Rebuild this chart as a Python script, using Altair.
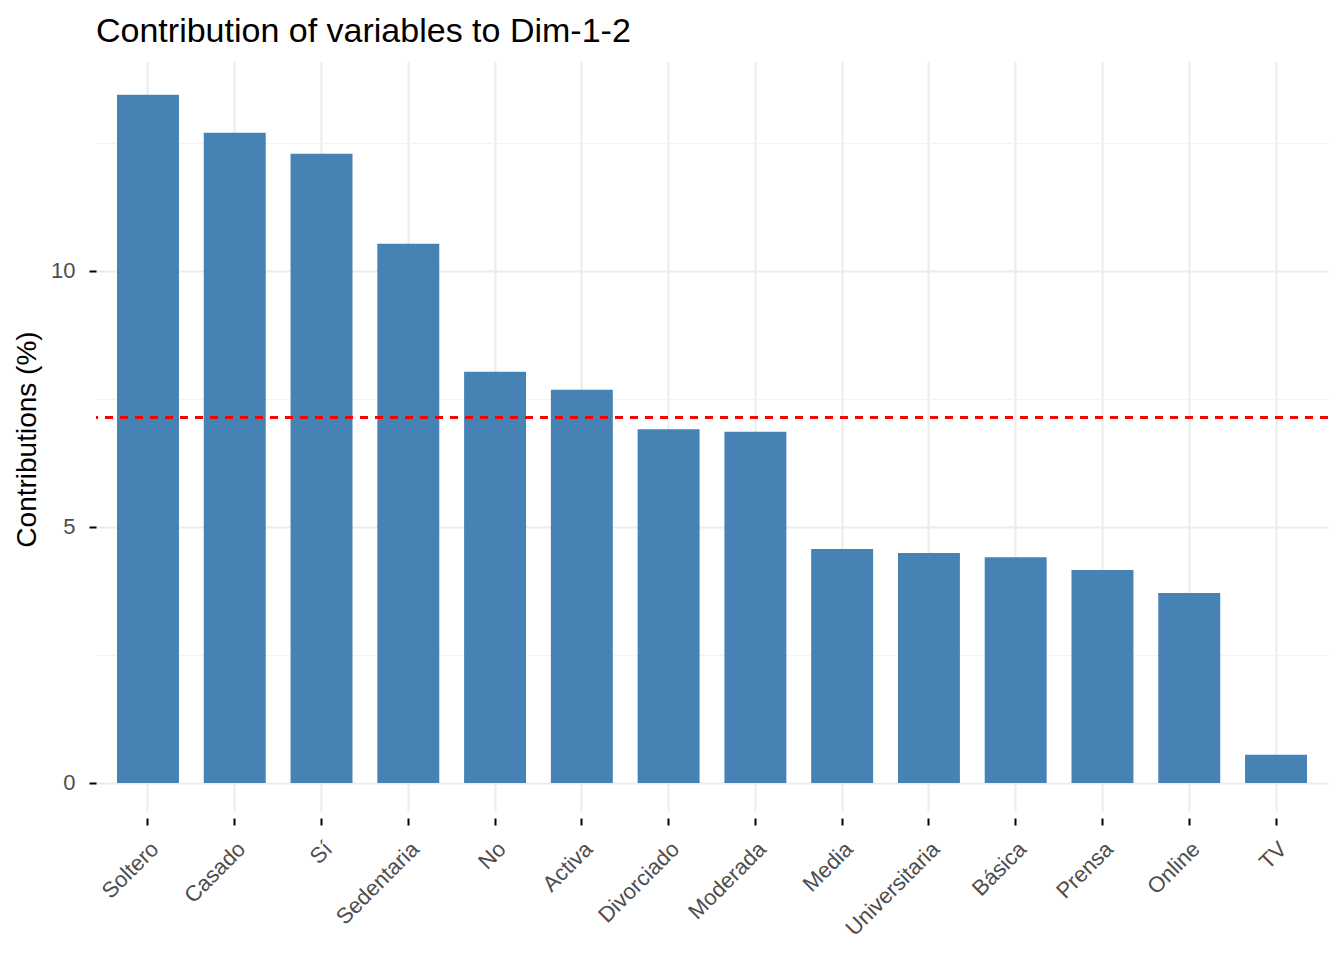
import altair as alt
import pandas as pd

categories = ["Soltero", "Casado", "Sí", "Sedentaria", "No", "Activa", "Divorciado",
              "Moderada", "Media", "Universitaria", "Básica", "Prensa", "Online", "TV"]
contrib = [13.44, 12.70, 12.29, 10.53, 8.03, 7.68, 6.91,
           6.86, 4.57, 4.49, 4.41, 4.16, 3.71, 0.55]
expected = 100 / len(categories)

df = pd.DataFrame({"name": categories, "contrib": contrib})

FONT = "Liberation Sans"

x = alt.X("name:N", sort=None, title=None,
          scale=alt.Scale(paddingInner=0.286, paddingOuter=0.242),
          axis=alt.Axis(labelAngle=-45, labelAlign="right", labelBaseline="top",
                        labelPadding=13, labelFontSize=22, labelColor="#4d4d4d",
                        labelFont=FONT, tickSize=7, tickWidth=2, tickColor="black",
                        offset=7, domain=False, grid=True, gridColor="#ebebeb",
                        gridWidth=2))

yscale = alt.Scale(domain=[-0.547, 14.10], nice=False, zero=False)
yaxis = alt.Axis(values=[0, 2.5, 5, 7.5, 10, 12.5],
                 labelExpr="datum.value % 5 === 0 ? datum.label : ''",
                 labelFontSize=22, labelColor="#4d4d4d", labelFont=FONT,
                 labelPadding=14,
                 tickSize=7, tickWidth=2, tickColor="black",
                 tickOpacity={"condition": {"test": "datum.value % 5 !== 0", "value": 0}, "value": 1},
                 gridColor={"condition": {"test": "datum.value % 5 !== 0", "value": "#f3f3f3"}, "value": "#ebebeb"},
                 gridWidth={"condition": {"test": "datum.value % 5 !== 0", "value": 1.2}, "value": 2},
                 domain=False,
                 title="Contributions (%)", titleFont=FONT, titleFontSize=28,
                 titleFontWeight="normal", titleColor="black",
                 titleX=-69, titleY=378, titleBaseline="middle", titleAngle=-90)

bars = alt.Chart(df).mark_bar(color="#4682B4").encode(
    x=x,
    y=alt.Y("contrib:Q", scale=yscale, axis=yaxis),
    y2=alt.datum(0),
)

line = alt.Chart(df).mark_rule(color="#ff0000", strokeDash=[8, 7], strokeWidth=2).encode(
    y=alt.datum(expected),
)

chart = alt.layer(bars, line).properties(
    width=1232, height=750,
    title=alt.TitleParams("Contribution of variables to Dim-1-2", anchor="start",
                          frame="group", font=FONT, fontSize=34, fontWeight="normal",
                          color="black", baseline="alphabetic", offset=19, dy=34),
    autosize=alt.AutoSizeParams(type="none"),
    padding={"left": 88, "top": 53, "right": 8, "bottom": 130},
    background="white",
).configure_view(stroke=None)

chart.save("out.html", embed_options={"renderer": "svg", "actions": False})
